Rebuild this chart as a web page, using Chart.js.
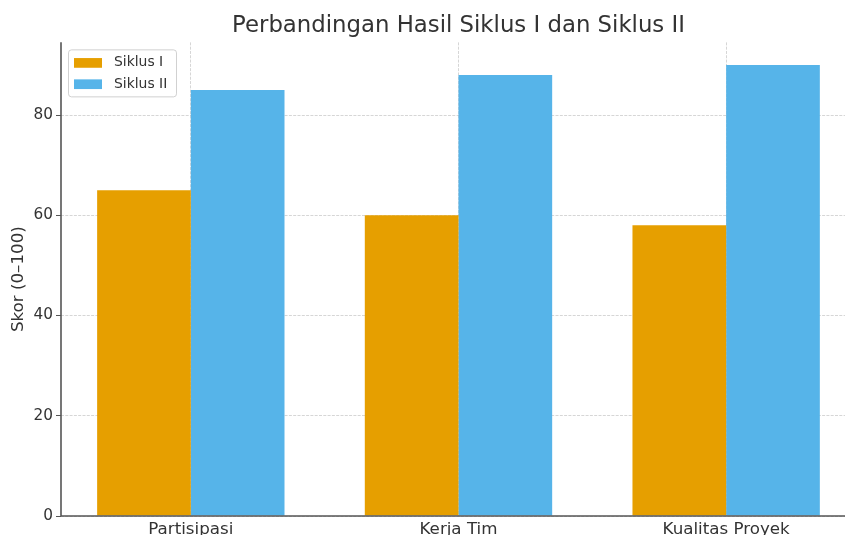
<!DOCTYPE html>
<html>
<head>
<meta charset="utf-8">
<script src="https://cdn.jsdelivr.net/npm/chart.js@4"></script>
<style>
  html, body { margin: 0; padding: 0; overflow: hidden; background: #fff; }
  #wrap { position: absolute; left: 0; top: 0; width: 917px; height: 560px; }
</style>
</head>
<body>
<div id="wrap"><canvas id="c" width="917" height="560"></canvas></div>
<script>
const categories = ["Partisipasi", "Kerja Tim", "Kualitas Proyek"];
const siklus1 = [65, 60, 58];
const siklus2 = [85, 88, 90];
const seriesNames = ["Siklus I", "Siklus II"];
const yTicks = [0, 20, 40, 60, 80];
const titleText = "Perbandingan Hasil Siklus I dan Siklus II";
const yTitle = "Skor (0–100)";

const FONT = "'DejaVu Sans', sans-serif";
const gridColor = "rgba(176,176,176,0.65)";
const spineColor = "#555";

const toPts = arr => arr.map((v, i) => ({ x: i, y: v }));

const legendPlugin = {
  id: 'boxLegend',
  afterDraw(chart) {
    const ctx = chart.ctx;
    const a = chart.chartArea;
    const x0 = a.left + 7, y0 = a.top + 7, w = 108, h = 47;
    ctx.save();
    ctx.fillStyle = "rgba(255,255,255,0.8)";
    ctx.strokeStyle = "rgba(204,204,204,0.9)";
    ctx.lineWidth = 1;
    ctx.beginPath();
    ctx.roundRect(x0 + 0.5, y0 + 0.5, w, h, 3);
    ctx.fill();
    ctx.stroke();
    ctx.font = "13.9px " + FONT;
    ctx.textBaseline = "middle";
    ctx.textAlign = "left";
    chart.data.datasets.forEach((ds, i) => {
      const cy = y0 + 13.5 + i * 21.3;
      ctx.fillStyle = ds.backgroundColor;
      ctx.fillRect(x0 + 6, cy - 4.8, 28, 9.7);
      ctx.fillStyle = "#333";
      ctx.fillText(ds.label, x0 + 46, cy);
    });
    ctx.restore();
  }
};

// solid spines drawn on top of the (dashed) grid
const spinePlugin = {
  id: 'spines',
  afterDatasetsDraw(chart) {
    const ctx = chart.ctx;
    const a = chart.chartArea;
    ctx.save();
    ctx.strokeStyle = spineColor;
    ctx.lineWidth = 1.6;
    ctx.setLineDash([]);
    ctx.beginPath();
    ctx.moveTo(a.left, a.top);
    ctx.lineTo(a.left, a.bottom);
    ctx.lineTo(a.right, a.bottom);
    ctx.stroke();
    ctx.restore();
  }
};

new Chart(document.getElementById('c'), {
  type: 'bar',
  data: {
    datasets: [
      { label: seriesNames[0], data: toPts(siklus1), backgroundColor: "#E69F00", borderWidth: 0 },
      { label: seriesNames[1], data: toPts(siklus2), backgroundColor: "#56B4E9", borderWidth: 0 }
    ]
  },
  options: {
    responsive: false,
    animation: false,
    devicePixelRatio: 1,
    categoryPercentage: 0.7,
    barPercentage: 1.0,
    layout: { padding: 0 },
    plugins: {
      legend: { display: false },
      tooltip: { enabled: false },
      title: {
        display: true,
        text: titleText,
        color: "#333",
        font: { family: FONT, size: 22.8, weight: 'normal', lineHeight: 1.2 },
        padding: { top: 12, bottom: 3 }
      }
    },
    scales: {
      x: {
        type: 'linear',
        offset: false,
        min: -0.485,
        max: 2.713,
        afterBuildTicks: s => { s.ticks = categories.map((c, i) => ({ value: i })); },
        afterFit: s => { s.height = 44; },
        ticks: {
          callback: v => categories[v],
          color: "#333",
          font: { family: FONT, size: 16.7 },
          padding: 4,
          maxRotation: 0,
          autoSkip: false
        },
        grid: {
          offset: false,
          color: gridColor,
          lineWidth: 0.8,
          drawTicks: false,
          tickBorderDash: []
        },
        border: { display: false, dash: [3, 1.3] }
      },
      y: {
        min: 0,
        max: 94.5,
        afterBuildTicks: s => { s.ticks = yTicks.map(v => ({ value: v })); },
        afterFit: s => { s.width = 61; },
        ticks: {
          color: "#333",
          font: { family: FONT, size: 15.3 },
          padding: 3
        },
        grid: {
          color: gridColor,
          lineWidth: 0.8,
          drawTicks: true,
          tickLength: 5,
          tickColor: spineColor,
          tickWidth: 1,
          tickBorderDash: []
        },
        border: { display: false, dash: [3, 1.3] },
        title: {
          display: true,
          text: yTitle,
          color: "#333",
          font: { family: FONT, size: 16.7 },
          padding: { top: 9, bottom: 0 }
        }
      }
    }
  },
  plugins: [legendPlugin, spinePlugin]
});
</script>
</body>
</html>
